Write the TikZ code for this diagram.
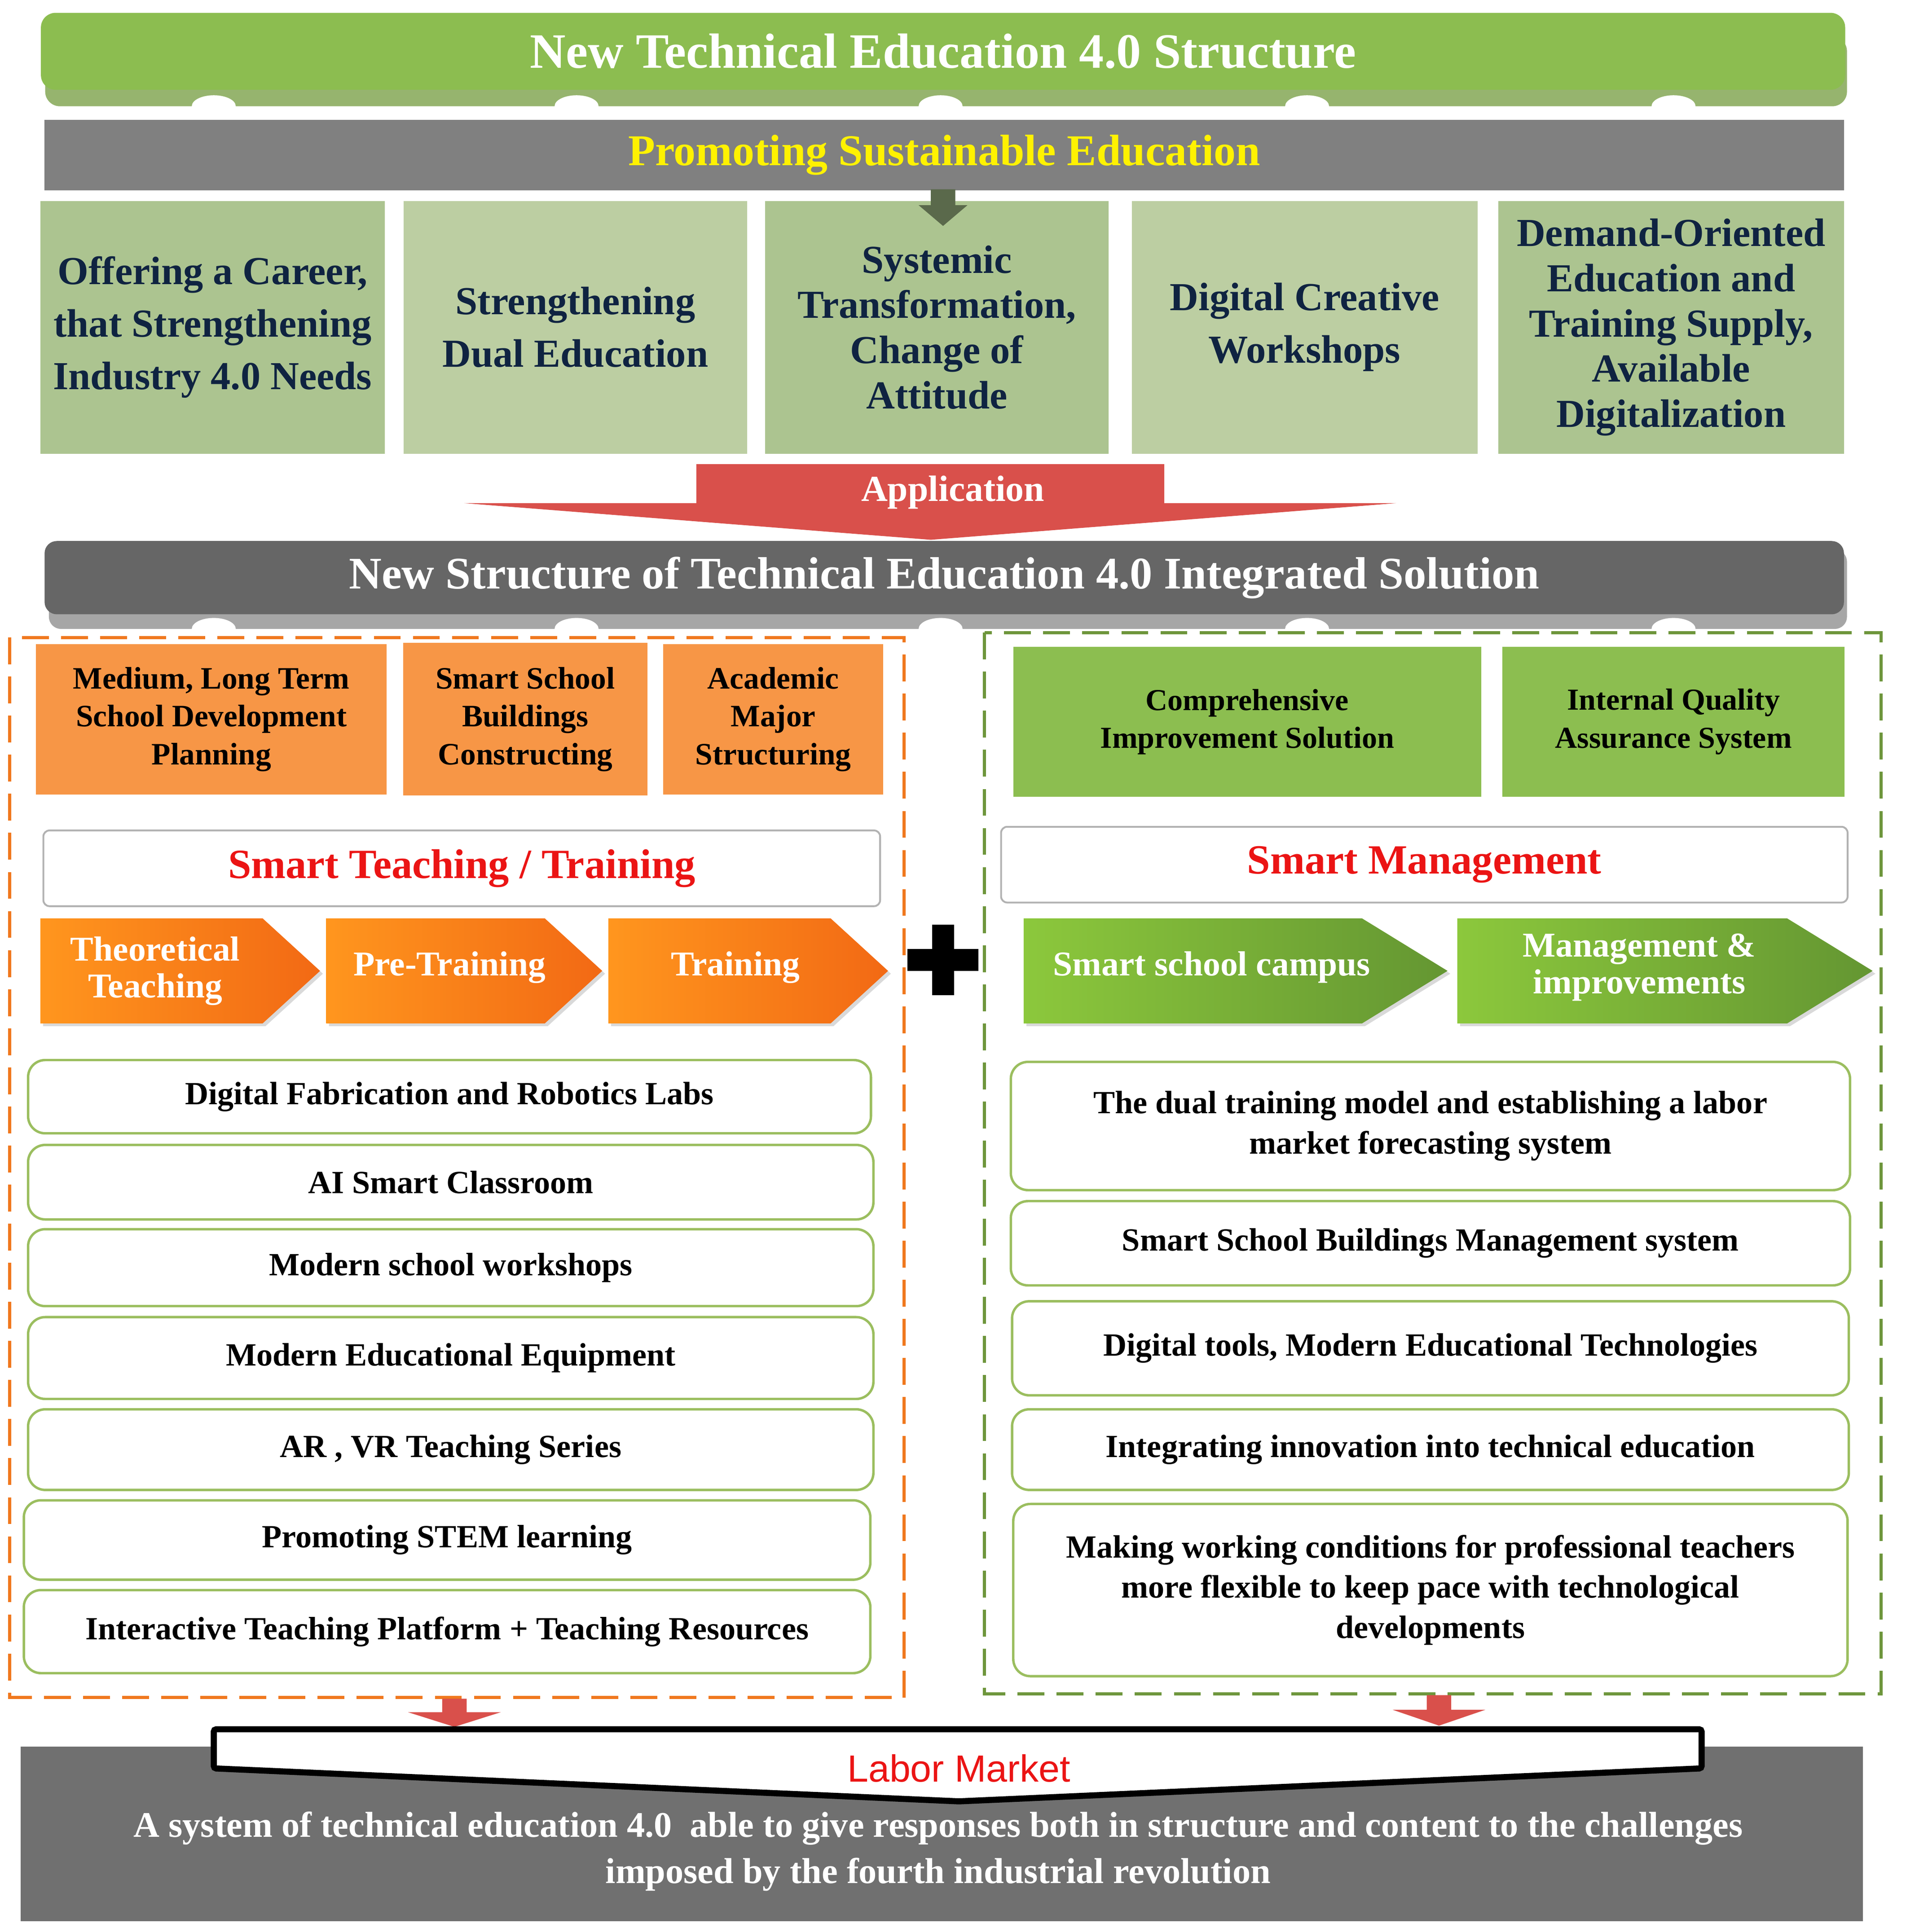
\documentclass[tikz,border=0pt]{standalone}
\usepackage{fontspec}
\setmainfont{Liberation Serif}
\newfontfamily\sansf{Liberation Sans}
\usetikzlibrary{shadows}
\definecolor{topg}{RGB}{140,189,80}
\definecolor{topgd}{RGB}{150,180,110}
\definecolor{gA}{RGB}{172,196,144}
\definecolor{gB}{RGB}{188,206,162}
\definecolor{navy}{RGB}{15,35,65}
\definecolor{redA}{RGB}{217,80,75}
\definecolor{org}{RGB}{247,150,70}
\definecolor{grn}{RGB}{140,190,80}
\definecolor{lgb}{RGB}{155,190,95}
\definecolor{dashg}{RGB}{110,150,60}
\definecolor{dasho}{RGB}{240,120,30}
\definecolor{tred}{RGB}{235,20,20}
\definecolor{chOa}{RGB}{255,150,30}
\definecolor{chOb}{RGB}{242,105,20}
\definecolor{chGa}{RGB}{140,200,60}
\definecolor{chGb}{RGB}{100,150,50}
\definecolor{darr}{RGB}{90,105,75}
\tikzset{
 fs/.style n args={2}{font=\fontsize{#1}{#2}\selectfont\bfseries},
 gbox/.style={fill=#1,align=center,text=navy,fs={32.5}{43}},
 obox/.style={fill=org,align=center,fs={25.5}{31}},
 grbox/.style={fill=grn,align=center,fs={25}{31}},
 lbox/.style={draw=lgb,line width=2pt,rounded corners=14pt,fill=white,align=center,fs={26.5}{33}},
 hbox/.style={draw=gray!60,line width=1.5pt,rounded corners=5pt,fill=white,text=tred,fs={34}{36}},
 chev/.style={text=white,align=center,fs={28.5}{30}},
}
\begin{document}
\begin{tikzpicture}[x=1pt,y=-1pt]
\useasboundingbox (0,0) rectangle (1560,1582);
% top banner
\fill[topgd,rounded corners=12pt] (37,30) rectangle (1512,87);
\foreach \x in {175,472,770,1070,1370}{\fill[white] (\x,87) ellipse (18 and 9);}
\node[fill=topg,rounded corners=12pt,minimum width=1477pt,minimum height=63pt,text=white,fs={40.5}{42}] (t1) at (772,42) {New Technical Education 4.0 Structure};
\node[fill=black!50,minimum width=1473pt,minimum height=58pt,text=yellow,fs={36}{38}] (t2) at (773,127) {Promoting Sustainable Education};
% five boxes
\node[gbox=gA,minimum width=282pt,minimum height=207pt] (b1) at (174,268) {Offering a Career,\\that Strengthening\\Industry 4.0 Needs};
\node[gbox=gB,minimum width=281pt,minimum height=207pt] (b2) at (471,268) {Strengthening\\Dual Education};
\node[gbox=gA,minimum width=281pt,minimum height=207pt] (b3) at (767,268) {Systemic\\[-6pt]Transformation,\\[-6pt]Change of\\[-6pt]Attitude};
\node[gbox=gB,minimum width=283pt,minimum height=207pt] (b4) at (1068,268) {Digital Creative\\Workshops};
\node[gbox=gA,minimum width=283pt,minimum height=207pt] (b5) at (1368,268) {Demand-Oriented\\[-6pt]Education and\\[-6pt]Training Supply,\\[-6pt]Available\\[-6pt]Digitalization};
\fill[darr] (762,155) -- (782,155) -- (782,168) -- (792,168) -- (772,185) -- (752,168) -- (762,168) -- cycle;
% application arrow
\fill[redA] (570,380) -- (953,380) -- (953,412) -- (1143,412) -- (762,442) -- (380,412) -- (570,412) -- cycle;
\node[text=white,fs={30}{32}] (app) at (780,403) {Application};
% second banner
\fill[black!35,rounded corners=10pt] (40,450) rectangle (1512,515);
\foreach \x in {175,472,770,1070,1370}{\fill[white] (\x,515) ellipse (18 and 9);}
\node[fill=black!60,rounded corners=10pt,minimum width=1473pt,minimum height=60pt,text=white,fs={37}{40}] (t3) at (773,473) {New Structure of Technical Education 4.0 Integrated Solution};
% dashed frames
\draw[dasho,line width=2.5pt,dash pattern=on 22pt off 10pt] (8,522) rectangle (740,1390);
\draw[dashg,line width=2.5pt,dash pattern=on 22pt off 10pt] (806,518) rectangle (1540,1387);
% orange boxes
\node[obox,minimum width=287pt,minimum height=123pt] (o1) at (173,589) {Medium, Long Term\\School Development\\Planning};
\node[obox,minimum width=200pt,minimum height=125pt] (o2) at (430,589) {Smart School\\Buildings\\Constructing};
\node[obox,minimum width=180pt,minimum height=123pt] (o3) at (633,589) {Academic\\Major\\Structuring};
\node[grbox,minimum width=383pt,minimum height=123pt] (g1) at (1021,591) {Comprehensive\\Improvement Solution};
\node[grbox,minimum width=280pt,minimum height=123pt] (g2) at (1370,591) {Internal Quality\\Assurance System};
% headers
\node[hbox,minimum width=685pt,minimum height=62pt] (h1) at (378,711) {Smart Teaching / Training};
\node[hbox,minimum width=693pt,minimum height=62pt] (h2) at (1166,708) {Smart Management};
% chevrons
\foreach \a/\b in {33/262,267/493,498/727}{
 \shade[left color=chOa,right color=chOb,drop shadow={opacity=0.3}] (\a,752) -- (\b-47,752) -- (\b,795) -- (\b-47,838) -- (\a,838) -- cycle;}
\node[chev] (c1) at (127,795) {Theoretical\\Teaching};
\node[chev] (c2) at (368,792) {Pre-Training};
\node[chev] (c3) at (602,792) {Training};
\foreach \a/\b in {838/1185,1193/1533}{
 \shade[left color=chGa,right color=chGb,drop shadow={opacity=0.3}] (\a,752) -- (\b-70,752) -- (\b,795) -- (\b-70,838) -- (\a,838) -- cycle;}
\node[chev] (c4) at (992,792) {Smart school campus};
\node[chev] (c5) at (1342,792) {Management \&\\improvements};
% plus
\fill[black] (763,757) rectangle (781,815);
\fill[black] (743,777) rectangle (801,795);
% left list
\node[lbox,minimum width=690pt,minimum height=60pt] (l1) at (368,898) {Digital Fabrication and Robotics Labs};
\node[lbox,minimum width=692pt,minimum height=61pt] (l2) at (369,968) {AI Smart Classroom};
\node[lbox,minimum width=692pt,minimum height=63pt] (l3) at (369,1038) {Modern school workshops};
\node[lbox,minimum width=692pt,minimum height=67pt] (l4) at (369,1112) {Modern Educational Equipment};
\node[lbox,minimum width=692pt,minimum height=66pt] (l5) at (369,1187) {AR , VR Teaching Series};
\node[lbox,minimum width=693pt,minimum height=65pt] (l6) at (366,1261) {Promoting STEM learning};
\node[lbox,minimum width=693pt,minimum height=68pt] (l7) at (366,1336) {Interactive Teaching Platform + Teaching Resources};
% right list
\node[lbox,minimum width=687pt,minimum height=105pt] (r1) at (1171,922) {The dual training model and establishing a labor\\market forecasting system};
\node[lbox,minimum width=687pt,minimum height=69pt] (r2) at (1171,1018) {Smart School Buildings Management system};
\node[lbox,minimum width=685pt,minimum height=77pt] (r3) at (1171,1104) {Digital tools, Modern Educational Technologies};
\node[lbox,minimum width=685pt,minimum height=66pt] (r4) at (1171,1187) {Integrating innovation into technical education};
\node[lbox,minimum width=683pt,minimum height=141pt] (r5) at (1171,1302) {Making working conditions for professional teachers\\more flexible to keep pace with technological\\developments};
% bottom
\fill[black!56] (17,1430) rectangle (1525,1573);
\fill[redA] (362,1391) -- (382,1391) -- (382,1402) -- (410,1402) -- (372,1414) -- (334,1402) -- (362,1402) -- cycle;
\fill[redA] (1168,1388) -- (1188,1388) -- (1188,1400) -- (1216,1400) -- (1178,1413) -- (1140,1400) -- (1168,1400) -- cycle;
\draw[black,line width=5pt,fill=white,rounded corners=2pt] (175,1416) -- (1393,1416) -- (1393,1448) -- (785,1475) -- (175,1448) -- cycle;
\node[text=tred,font=\sansf\fontsize{31}{34}\selectfont] (lm) at (785,1448) {Labor Market};
\node[text=white,align=center,fs={29.5}{38}] (bt) at (768,1516) {A system of technical education 4.0 \ able to give responses both in structure and content to the challenges\\imposed by the fourth industrial revolution};
\end{tikzpicture}
\end{document}
